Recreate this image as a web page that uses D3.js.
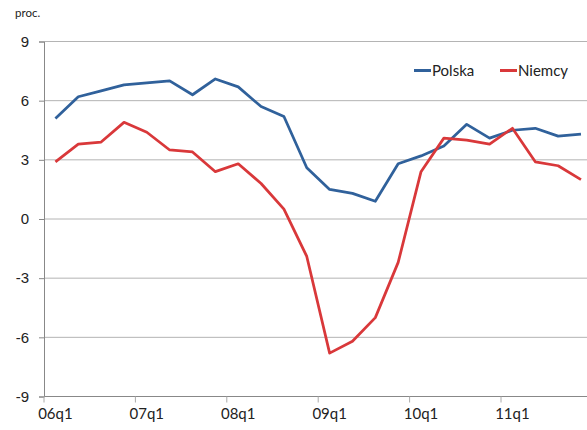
<!DOCTYPE html>
<html>
<head>
<meta charset="utf-8">
<script src="https://cdn.jsdelivr.net/npm/d3@7"></script>
<style>
  body { margin: 0; background: #fff; }
  svg { display: block; font-family: Lato, "Open Sans", sans-serif; }
</style>
</head>
<body>
<svg id="chart" width="587" height="430"></svg>
<script>
// kwartaly 2006-2011
var quarters = [
  "06q1", "06q2", "06q3", "06q4", "07q1", "07q2", "07q3", "07q4",
  "08q1", "08q2", "08q3", "08q4", "09q1", "09q2", "09q3", "09q4",
  "10q1", "10q2", "10q3", "10q4", "11q1", "11q2", "11q3", "11q4"
];
var polska = [5.1, 6.2, 6.5, 6.8, 6.9, 7.0, 6.3, 7.1, 6.7, 5.7, 5.2, 2.6,
  1.5, 1.3, 0.9, 2.8, 3.2, 3.7, 4.8, 4.1, 4.5, 4.6, 4.2, 4.3];
var niemcy = [2.9, 3.8, 3.9, 4.9, 4.4, 3.5, 3.4, 2.4, 2.8, 1.8, 0.5, -1.9,
  -6.8, -6.2, -5.0, -2.2, 2.4, 4.1, 4.0, 3.8, 4.6, 2.9, 2.7, 2.0];
var yTicks = [-9, -6, -3, 0, 3, 6, 9];
var xTickLabels = ["06q1", "07q1", "08q1", "09q1", "10q1", "11q1"];

var series = [
  { name: "Polska", values: polska, color: "#30619b" },
  { name: "Niemcy", values: niemcy, color: "#d9383a" }
];

var svg = d3.select("#chart");
var W = 587;

var x = d3.scaleBand().domain(quarters).range([44, 44 + 24 * 22.85]);
var y = d3.scaleLinear().domain([-9, 9]).range([396.5, 41.5]);

// siatka
svg.append("g")
  .selectAll("line")
  .data(yTicks)
  .enter()
  .append("line")
  .attr("x1", 44)
  .attr("x2", W)
  .attr("y1", d => y(d))
  .attr("y2", d => y(d))
  .attr("stroke", "#b4b4b4")
  .attr("stroke-width", 1);

// os Y (zwykly minus jak w Excelu)
var yAxis = svg.append("g")
  .attr("transform", "translate(44,0)")
  .call(d3.axisLeft(y).tickValues(yTicks).tickSize(5).tickPadding(10)
    .tickFormat(d => String(d)));
yAxis.select(".domain").attr("stroke", "#888");
yAxis.selectAll(".tick line").attr("stroke", "#888");
yAxis.selectAll("text")
  .attr("font-size", 15)
  .attr("fill", "#222");

// os X
var xAxis = svg.append("g")
  .attr("transform", "translate(0," + y(-9) + ")");
xAxis.append("line")
  .attr("x1", 44)
  .attr("x2", W)
  .attr("stroke", "#888");
xAxis.selectAll(".xtick")
  .data(xTickLabels)
  .enter()
  .append("line")
  .attr("class", "xtick")
  .attr("x1", d => x(d))
  .attr("x2", d => x(d))
  .attr("y1", 0)
  .attr("y2", 6)
  .attr("stroke", "#aaa");
xAxis.selectAll(".xlabel")
  .data(xTickLabels)
  .enter()
  .append("text")
  .attr("class", "xlabel")
  .attr("x", d => x(d) + x.bandwidth() / 2)
  .attr("y", 22)
  .attr("text-anchor", "middle")
  .attr("font-size", 15)
  .attr("fill", "#222")
  .text(d => d);

// linie
var line = d3.line()
  .x((d, i) => x(quarters[i]) + x.bandwidth() / 2)
  .y(d => y(d));

svg.selectAll(".series")
  .data(series)
  .enter()
  .append("path")
  .attr("class", "series")
  .attr("d", d => line(d.values))
  .attr("fill", "none")
  .attr("stroke", d => d.color)
  .attr("stroke-width", 2.75)
  .attr("stroke-linejoin", "round");

// jednostka
svg.append("text")
  .attr("x", 15)
  .attr("y", 17)
  .attr("font-size", 11.5)
  .attr("fill", "#222")
  .text("proc.");

// legenda
var legend = svg.selectAll(".legend")
  .data(series)
  .enter()
  .append("g")
  .attr("class", "legend")
  .attr("transform", (d, i) => "translate(" + (414 + i * 86) + ",70.5)");
legend.append("line")
  .attr("x1", 0)
  .attr("x2", 17)
  .attr("stroke", d => d.color)
  .attr("stroke-width", 3);
legend.append("text")
  .attr("x", 18)
  .attr("y", 5.5)
  .attr("font-size", 15)
  .attr("fill", "#222")
  .text(d => d.name);
</script>
</body>
</html>
